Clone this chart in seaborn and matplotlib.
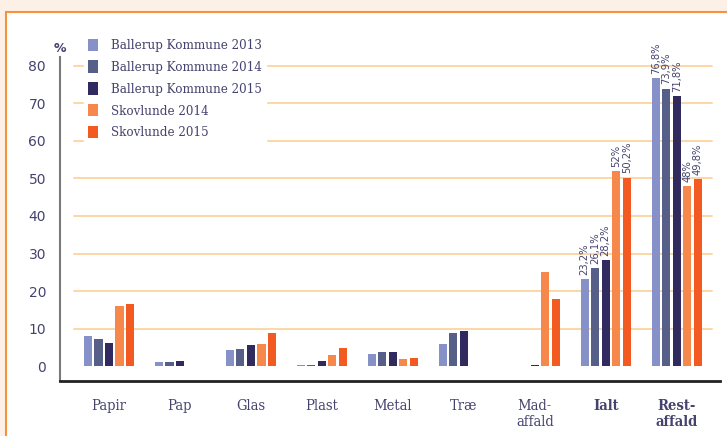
import matplotlib
matplotlib.use("Agg")
import matplotlib.pyplot as plt
import matplotlib.patches as mpatches
import seaborn as sns
import pandas as pd

categories = ["Papir", "Pap", "Glas", "Plast", "Metal", "Træ", "Mad-\naffald", "Ialt", "Rest-\naffald"]
series = ["Ballerup Kommune 2013", "Ballerup Kommune 2014", "Ballerup Kommune 2015",
          "Skovlunde 2014", "Skovlunde 2015"]

ballerup_2013 = [8.2, 1.1, 4.3, 0.3, 3.2, 5.9, 0.0, 23.2, 76.8]
ballerup_2014 = [7.2, 1.1, 4.5, 0.3, 3.7, 8.8, 0.0, 26.1, 73.9]
ballerup_2015 = [6.1, 1.4, 5.6, 1.3, 3.7, 9.3, 0.4, 28.2, 71.8]
skovlunde_2014 = [16.0, 0.0, 5.9, 2.9, 1.9, 0.0, 25.0, 52.0, 48.0]
skovlunde_2015 = [16.5, 0.0, 9.0, 4.8, 2.1, 0.0, 17.8, 50.2, 49.8]

labelled = ["Ialt", "Rest-\naffald"]
yticks = [0, 10, 20, 30, 40, 50, 60, 70, 80]

colors = ["#8691c8", "#565f88", "#312a5e", "#f5884a", "#f25a22"]
text_color = "#45436e"

values = [ballerup_2013, ballerup_2014, ballerup_2015, skovlunde_2014, skovlunde_2015]
rows = []
for s, vals in zip(series, values):
    for c, v in zip(categories, vals):
        rows.append({"category": c, "series": s, "value": v})
df = pd.DataFrame(rows)

sns.set_style("white")
plt.rcParams["font.family"] = ["DejaVu Sans"]

fig = plt.figure(figsize=(7.27, 4.36), dpi=100)
fig.patch.set_facecolor("#fdf1e7")
# white panel with orange frame
fig.patches.append(mpatches.Rectangle((6 / 727, -0.1), 1.2, (436 - 12) / 436 + 0.1,
                                      transform=fig.transFigure, facecolor="white",
                                      edgecolor="#f7913d", linewidth=1.5, zorder=-10))
ax = fig.add_axes([60 / 727, 55 / 436, 660 / 727, 324 / 436])
ax.set_facecolor("none")

sns.barplot(data=df, x="category", y="value", hue="series", order=categories,
            hue_order=series, palette=colors, width=0.74, gap=0.22,
            saturation=1, linewidth=0, ax=ax, zorder=3)

for y in yticks[1:]:
    ax.axhline(y, xmin=0.021, xmax=0.988, color="#fcd6a6", linewidth=1.4, zorder=1)

ax.set_ylim(-3.9, 82.3)
ax.set_xlim(-0.69, 8.61)
ax.set_yticks(yticks)
ax.set_xlabel("")
ax.set_ylabel("")
ax.tick_params(axis="y", length=0, pad=10, labelsize=10, labelcolor=text_color)
ax.tick_params(axis="x", length=0, pad=13, labelsize=10.5, labelcolor=text_color)
for lab in ax.get_xticklabels():
    lab.set_family("DejaVu Serif")
    lab.set_stretch("condensed")
    lab.set_verticalalignment("top")
    if lab.get_text() in labelled:
        lab.set_fontweight("bold")

for side in ["top", "right"]:
    ax.spines[side].set_visible(False)
ax.spines["left"].set_color("#7a7a7a")
ax.spines["left"].set_linewidth(1.5)
ax.spines["bottom"].set_color("#222222")
ax.spines["bottom"].set_linewidth(2)

for cont, vals in zip(ax.containers, values):
    labels = []
    for c, v in zip(categories, vals):
        labels.append((f"{v:g}".replace(".", ",") + "%") if c in labelled else "")
    ax.bar_label(cont, labels=labels, rotation=90, padding=3, fontsize=8,
                 fontstretch="condensed", color=text_color)

ax.text(0.0, 1.005, "%", transform=ax.transAxes, ha="center", va="bottom",
        fontsize=9, fontweight="bold", color=text_color)

handles, labels = ax.get_legend_handles_labels()
ax.legend(handles, labels, loc="upper left", bbox_to_anchor=(77 / 727, 1 - 28 / 436),
          bbox_transform=fig.transFigure, frameon=True, facecolor="white",
          edgecolor="white", framealpha=1, fancybox=False,
          prop={"family": "DejaVu Serif", "stretch": "condensed", "size": 9.5},
          labelcolor=text_color, handlelength=0.8, handleheight=1.1,
          handletextpad=1.0, labelspacing=0.6, borderpad=0.3)

fig.savefig("out.png", dpi=100, facecolor=fig.get_facecolor())
